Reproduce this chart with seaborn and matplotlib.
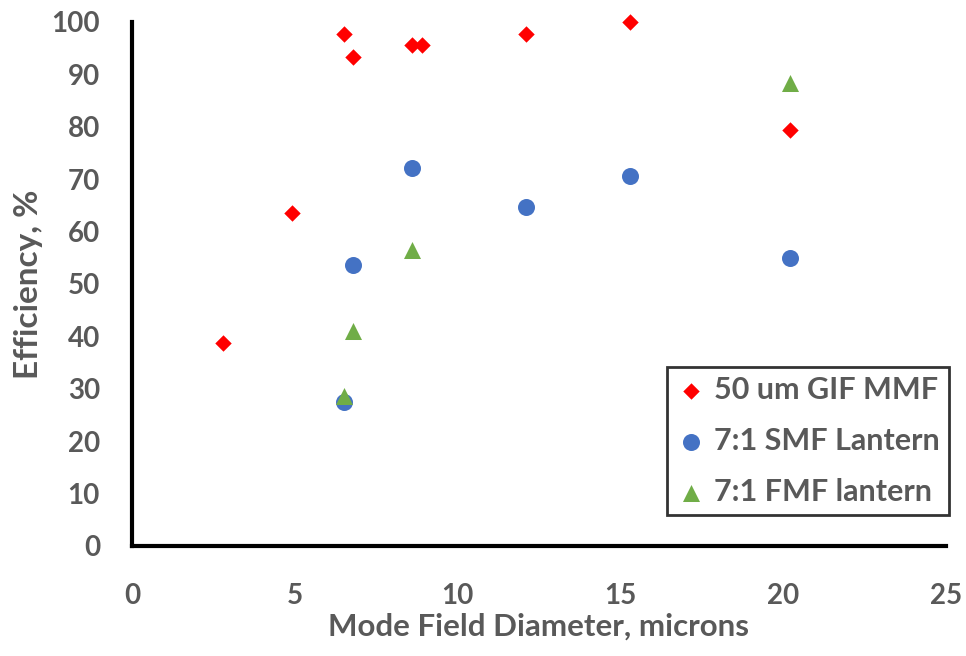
import numpy as np
import pandas as pd
import matplotlib
matplotlib.use("Agg")
import matplotlib.pyplot as plt
import seaborn as sns

# data
gif_x = [2.8, 4.9, 6.5, 6.8, 8.6, 8.9, 12.1, 15.3, 20.2]
gif_y = [38.7, 63.5, 97.8, 93.4, 95.6, 95.6, 97.8, 100.0, 79.3]
smf_x = [6.5, 6.8, 8.6, 12.1, 15.3, 20.2]
smf_y = [27.4, 53.6, 72.2, 64.7, 70.7, 54.9]
fmf_x = [6.5, 6.8, 8.6, 20.2]
fmf_y = [28.7, 41.0, 56.5, 88.4]
series = ["50 um GIF MMF", "7:1 SMF Lantern", "7:1 FMF lantern"]

df = pd.concat([
    pd.DataFrame({"mfd": gif_x, "eff": gif_y, "fiber": series[0]}),
    pd.DataFrame({"mfd": smf_x, "eff": smf_y, "fiber": series[1]}),
    pd.DataFrame({"mfd": fmf_x, "eff": fmf_y, "fiber": series[2]}),
])

sns.set_style("white")
plt.rcParams['font.family'] = ['Lato', 'DejaVu Sans']
plt.rcParams['font.weight'] = 'bold'
grey = "#595959"

fig = plt.figure(figsize=(9.66, 6.56), dpi=100)
ax = fig.add_axes([132/966, 110/656, 814/966, 524/656])

palette = {series[0]: "#FF0000", series[1]: "#4472C4", series[2]: "#70AD47"}
markers = {series[0]: "D", series[1]: "o", series[2]: "^"}
sizes = {series[0]: 70, series[1]: 150, series[2]: 150}

for name in series:
    sub = df[df.fiber == name]
    sns.scatterplot(data=sub, x="mfd", y="eff", color=palette[name], marker=markers[name],
                    s=sizes[name], linewidth=0, ax=ax, label=name, zorder=3, clip_on=False)

ax.set_xlim(0, 25)
ax.set_ylim(0, 100)
ax.set_xticks(np.arange(0, 26, 5))
ax.set_yticks(np.arange(0, 101, 10))

for side in ["top", "right"]:
    ax.spines[side].set_visible(False)
for side in ["left", "bottom"]:
    ax.spines[side].set_linewidth(3)
    ax.spines[side].set_color("black")

ax.tick_params(axis="both", direction="in", length=8, width=3, color="black",
               labelsize=20, labelcolor=grey)
ax.tick_params(axis="y", pad=23)
ax.tick_params(axis="x", pad=27)
for lbl in ax.get_xticklabels() + ax.get_yticklabels():
    lbl.set_fontweight("bold")

ax.set_xlabel("Mode Field Diameter, microns", fontsize=22.5, color=grey, fontweight="bold", labelpad=2)
ax.set_ylabel("Efficiency, %", fontsize=24, color=grey, fontweight="bold", labelpad=6)

leg = ax.legend(loc="lower right", bbox_to_anchor=(1.004, 0.059), borderaxespad=0,
                frameon=True, fancybox=False, fontsize=22, handletextpad=0.25,
                labelspacing=0.75, borderpad=0.3, handlelength=1.0)
leg.get_frame().set_edgecolor("black")
leg.get_frame().set_linewidth(2)
for t in leg.get_texts():
    t.set_color(grey)
    t.set_fontweight("bold")

fig.savefig("out.png", dpi=100)
